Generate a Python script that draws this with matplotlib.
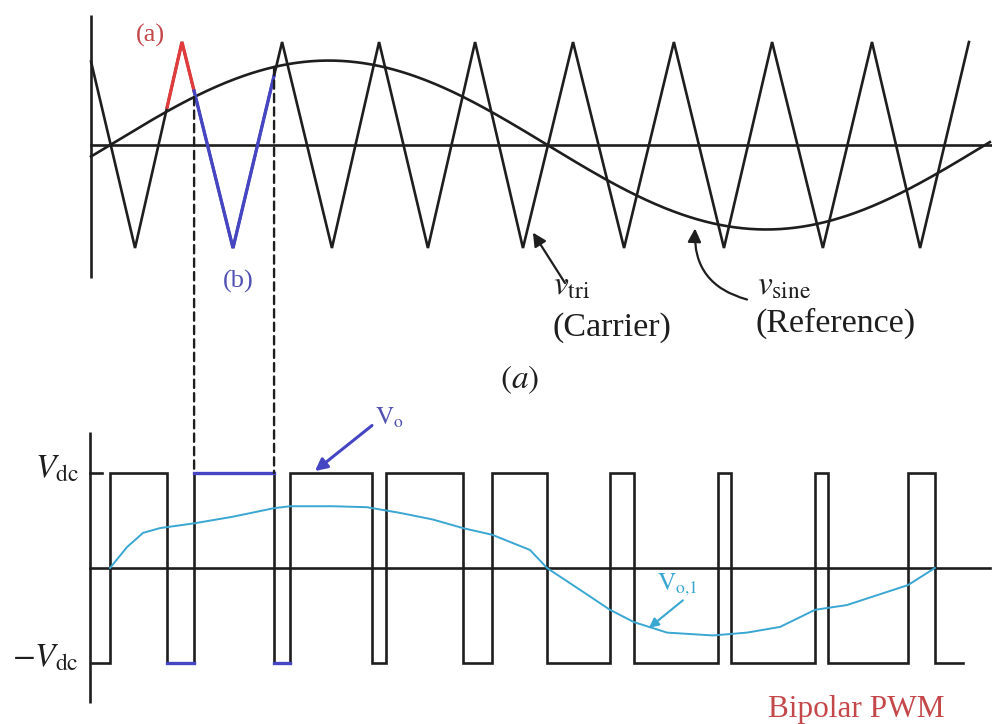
import numpy as np
import matplotlib
matplotlib.use("Agg")
import matplotlib.pyplot as plt
from matplotlib.patches import ConnectionPatch, FancyArrowPatch

plt.rcParams["mathtext.fontset"] = "stix"
plt.rcParams["font.family"] = ["Liberation Serif", "DejaVu Serif"]

# ---- data (time in electrical degrees of the reference, voltages normalised) ----
# triangular carrier vertices
carrier_t = [-7.8, 10.3, 29.6, 50.6, 70.8, 91.3, 110.7, 130.8, 150.2, 169.9,
             190.5, 211.5, 232.0, 252.6, 272.4, 293.3, 313.5, 333.3, 353.4]
carrier_v = [0.81, -1, 1, -1, 1, -1, 1, -1, 1, -1,
             1, -1, 1, -1, 1, -1, 1, -1, 1]

# sinusoidal reference
sine_amp = 0.82
sine_period = 360.0
sine_start, sine_end = -7.8, 362.0

# bipolar PWM output: switching instants, starting at -Vdc
pwm_start, pwm_end = -7.4, 351.0
pwm_edges = [0.0, 23.5, 34.6, 67.5, 74.1, 107.8, 113.6, 145.2, 157.2, 179.8,
             205.7, 215.6, 250.1, 255.5, 290.0, 295.4, 328.3, 339.4]

# fundamental component of the output
fund_t = [0.0, 7.0, 13.6, 20.6, 34.6, 50.6, 67.5, 74.1, 91.7, 105.7, 119.3,
          132.9, 145.2, 157.2, 172.8, 179.8, 193.4, 205.7, 215.6, 229.2, 248.1,
          262.1, 275.7, 290.1, 303.2, 328.3, 339.4]
fund_v = [0.0, 0.22, 0.37, 0.42, 0.47, 0.54, 0.63, 0.65, 0.65, 0.64, 0.58,
          0.51, 0.42, 0.35, 0.19, 0.0, -0.23, -0.44, -0.57, -0.68, -0.71,
          -0.68, -0.62, -0.44, -0.39, -0.18, 0.0]

# highlighted carrier interval: (a) above the reference, (b) below it
seg_a = (23.5, 34.6)
seg_b = (34.6, 67.5)

BLACK = "#1e1e1e"
RED = "#e23b3b"
BLUE = "#4646c4"
CYAN = "#3aa6d2"
RED_TXT = "#c4474a"
BLUE_TXT = "#5252b4"


def sine(t):
    return sine_amp * np.sin(2 * np.pi * np.asarray(t) / sine_period)


fig = plt.figure(figsize=(9.92, 7.24), dpi=100)
W, H = 992, 724
top_h, bot_h = 330, 394
ax1 = fig.add_axes([0, 1 - top_h / H, 1, top_h / H])
ax2 = fig.add_axes([0, 0, 1, bot_h / H])

xlim = (-45.26, 362.88)
ax1.set_xlim(*xlim)
ax1.set_ylim(-1.796, 1.408)
ax2.set_xlim(*xlim)
ax2.set_ylim(-1.642, 2.505)
for a in (ax1, ax2):
    a.axis("off")

LW = 1.9

# ---------------- top panel: carrier and reference ----------------
ax1.plot([-7.8, -7.8], [1.26, -1.29], color=BLACK, lw=LW, solid_capstyle="butt")
ax1.plot([-7.8, xlim[1]], [0, 0], color=BLACK, lw=LW)
ax1.plot(carrier_t, carrier_v, color=BLACK, lw=LW, solid_joinstyle="miter")
ts = np.linspace(sine_start, sine_end, 600)
ax1.plot(ts, sine(ts), color=BLACK, lw=LW)


def carrier_piece(t0, t1):
    ct = np.asarray(carrier_t)
    inner = ct[(ct > t0) & (ct < t1)]
    tt = np.r_[t0, inner, t1]
    return tt, np.interp(tt, carrier_t, carrier_v)


ta, va = carrier_piece(*seg_a)
ax1.plot(ta, va, color=RED, lw=2.4, zorder=4, solid_joinstyle="miter")
tb, vb = carrier_piece(*seg_b)
ax1.plot(tb, vb, color=BLUE, lw=2.4, zorder=4, solid_joinstyle="miter")

ax1.text(16.5, 1.06, "(a)", color=RED_TXT, fontsize=19, ha="center", va="center")
ax1.text(52.7, -1.32, "(b)", color=BLUE_TXT, fontsize=19, ha="center", va="center")

ax1.text(182.3, -1.45, r"$v_{\mathrm{tri}}$", fontsize=24, ha="left", va="baseline", color=BLACK)
ax1.text(182.0, -1.775, "(Carrier)", fontsize=24.5, ha="left", va="center", color=BLACK)
ax1.text(266.2, -1.45, r"$v_{\mathrm{sine}}$", fontsize=24, ha="left", va="baseline", color=BLACK)
ax1.text(265.4, -1.73, "(Reference)", fontsize=24.5, ha="left", va="center", color=BLACK)

ax1.add_patch(FancyArrowPatch((187.2, -1.34), (174.0, -0.85), arrowstyle="-|>",
                              mutation_scale=20, color=BLACK, lw=1.6,
                              shrinkA=0, shrinkB=0, zorder=5))
ax1.add_patch(FancyArrowPatch((262.1, -1.50), (240.7, -0.81), arrowstyle="-|>",
                              connectionstyle="arc3,rad=-0.4",
                              mutation_scale=20, color=BLACK, lw=1.6,
                              shrinkA=0, shrinkB=0, zorder=5))

# ---------------- bottom panel: bipolar PWM output ----------------
ax2.plot([-8.2, -8.2], [1.43, -1.42], color=BLACK, lw=LW, solid_capstyle="butt")
ax2.plot([-8.2, 362.0], [0, 0], color=BLACK, lw=LW)
ax2.plot([-8.2, -3.3], [1, 1], color=BLACK, lw=LW)

levels = [(-1) ** (i + 1) for i in range(len(pwm_edges) + 1)]
xs = np.r_[pwm_start, pwm_edges, pwm_end]
ys = np.r_[levels, levels[-1]]
ax2.step(xs, ys, where="post", color=BLACK, lw=LW, solid_joinstyle="miter")

# highlighted output pulses for the marked carrier interval
ax2.plot([seg_b[0], seg_b[1]], [1, 1], color=BLUE, lw=2.4, zorder=4)
ax2.plot([seg_a[0], seg_a[1]], [-1, -1], color=BLUE, lw=2.4, zorder=4)
i_next = pwm_edges.index(seg_b[1]) + 1
ax2.plot([seg_b[1], pwm_edges[i_next]], [-1, -1], color=BLUE, lw=2.4, zorder=4)

ax2.plot(fund_t, fund_v, color=CYAN, lw=1.4, zorder=5)

# dashed projections from the carrier/reference crossings
for tc in seg_b:
    con = ConnectionPatch(xyA=(tc, float(sine(tc))), coordsA=ax1.transData,
                          xyB=(tc, 1.0), coordsB=ax2.transData,
                          color=BLACK, lw=1.7, linestyle=(0, (3.5, 2.2)))
    fig.add_artist(con)

ax2.text(-13.0, 0.95, r"$V_{\mathrm{dc}}$", fontsize=24, ha="right", va="baseline", color=BLACK)
ax2.text(-13.0, -1.04, r"$-V_{\mathrm{dc}}$", fontsize=24, ha="right", va="baseline", color=BLACK)

ax2.text(168.7, 1.98, r"$(a)$", fontsize=24, ha="center", va="center", color=BLACK)

ax2.text(109.0, 1.58, r"$\mathrm{V}_{\mathrm{o}}$", fontsize=18, ha="left", va="center", color=BLUE_TXT)
ax2.add_patch(FancyArrowPatch((107.8, 1.5), (84.3, 1.02), arrowstyle="-|>",
                              mutation_scale=18, color=BLUE, lw=2.2,
                              shrinkA=0, shrinkB=0, zorder=6))

ax2.text(225.0, -0.18, r"$\mathrm{V}_{\mathrm{o{,}1}}$", fontsize=18, ha="left", va="center", color=CYAN)
ax2.add_patch(FancyArrowPatch((235.7, -0.34), (221.8, -0.63), arrowstyle="-|>",
                              mutation_scale=14, color=CYAN, lw=1.5,
                              shrinkA=0, shrinkB=0, zorder=6))

ax2.text(270.7, -1.568, "Bipolar PWM", fontsize=22.5, ha="left", va="baseline", color=RED_TXT)

fig.savefig("out.png", dpi=100)
